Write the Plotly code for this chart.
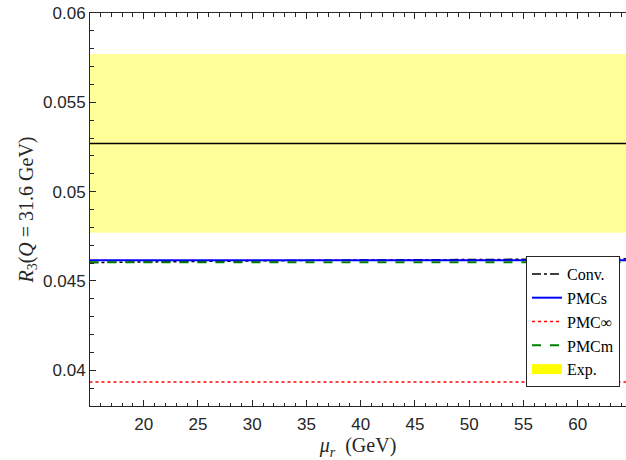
import plotly.graph_objects as go

# ---- data ----
mu_conv = [15, 20, 25, 30, 35, 40, 45, 50, 55, 60, 65]
conv_vals = [0.04603, 0.04607, 0.04610, 0.04613, 0.04615, 0.04617, 0.04619, 0.04620, 0.04621, 0.04623, 0.04624]
mu_flat = [15, 65]
pmcs_vals = [0.04616, 0.04616]
pmcinf_vals = [0.03935, 0.03935]
pmcm_vals = [0.04605, 0.04605]
exp_center = 0.0527
exp_err = 0.005

x_ticks = [20, 25, 30, 35, 40, 45, 50, 55, 60]
y_ticks = [0.04, 0.045, 0.05, 0.055, 0.06]
y_ticktext = ["0.04", "0.045", "0.05", "0.055", "0.06"]

SERIF = "Liberation Serif, Times New Roman, serif"
SANS = "Liberation Sans, Arial, sans-serif"
AXC = "#262626"

fig = go.Figure()

# experimental band
bx = [mu_flat[0], mu_flat[1], mu_flat[1], mu_flat[0]]
by = [exp_center - exp_err, exp_center - exp_err, exp_center + exp_err, exp_center + exp_err]
fig.add_trace(go.Scatter(x=bx, y=by, fill="toself", fillcolor="rgba(255,255,0,0.4)",
                         line=dict(width=0), mode="lines", showlegend=False, hoverinfo="skip"))
fig.add_trace(go.Scatter(x=mu_flat, y=[exp_center, exp_center], mode="lines",
                         line=dict(color="black", width=1.5), showlegend=False))

fig.add_trace(go.Scatter(x=mu_conv, y=conv_vals, mode="lines", name="Conv.",
                         line=dict(color="black", width=1.5, dash="dashdot")))
fig.add_trace(go.Scatter(x=mu_flat, y=pmcs_vals, mode="lines", name="PMCs",
                         line=dict(color="#0000ff", width=2)))
fig.add_trace(go.Scatter(x=mu_flat, y=pmcinf_vals, mode="lines", name="PMC∞",
                         line=dict(color="#ff0000", width=1.5, dash="dot")))
fig.add_trace(go.Scatter(x=mu_flat, y=pmcm_vals, mode="lines", name="PMCm",
                         line=dict(color="#008000", width=2, dash="dash")))
# legend swatch for experimental band
fig.add_trace(go.Scatter(x=[None, None], y=[None, None], mode="lines",
                         line=dict(width=14, color="#ffff00"), name="Exp."))

fig.update_layout(
    width=626, height=460,
    margin=dict(l=90, r=0, t=13, b=54),
    plot_bgcolor="white", paper_bgcolor="white",
    showlegend=True,
    legend=dict(x=0.8134, y=0.3817, xanchor="left", yanchor="top",
                bgcolor="white", bordercolor="#262626", borderwidth=1,
                font=dict(family=SERIF, size=16, color="black"),
                itemwidth=30, tracegroupgap=0),
    xaxis=dict(range=[15.05, 64.45], tickvals=x_ticks, ticks="inside", ticklen=6,
               tickcolor=AXC, showline=True, linecolor=AXC, linewidth=1, mirror="ticks",
               showgrid=False, zeroline=False, ticklabelstandoff=3,
               tickfont=dict(family=SANS, size=17, color=AXC),
               minor=dict(dtick=1, ticks="inside", ticklen=3.5, tickcolor=AXC),
               title=dict(text="<i>μ<sub>r</sub></i>  (GeV)", font=dict(family=SERIF, size=20, color=AXC),
                          standoff=2)),
    yaxis=dict(range=[0.038, 0.06], tickvals=y_ticks, ticktext=y_ticktext, ticks="inside",
               ticklen=6, tickcolor=AXC, showline=True, linecolor=AXC, linewidth=1,
               mirror=False, showgrid=False, zeroline=False,
               tickfont=dict(family=SANS, size=17, color=AXC),
               minor=dict(dtick=0.001, tick0=0.038, ticks="inside", ticklen=3.5, tickcolor=AXC),
               title=dict(text="<i>R</i><sub>3</sub>(<i>Q</i> = 31.6 GeV)",
                          font=dict(family=SERIF, size=20, color=AXC), standoff=4)),
)

fig.write_html("out.html")
